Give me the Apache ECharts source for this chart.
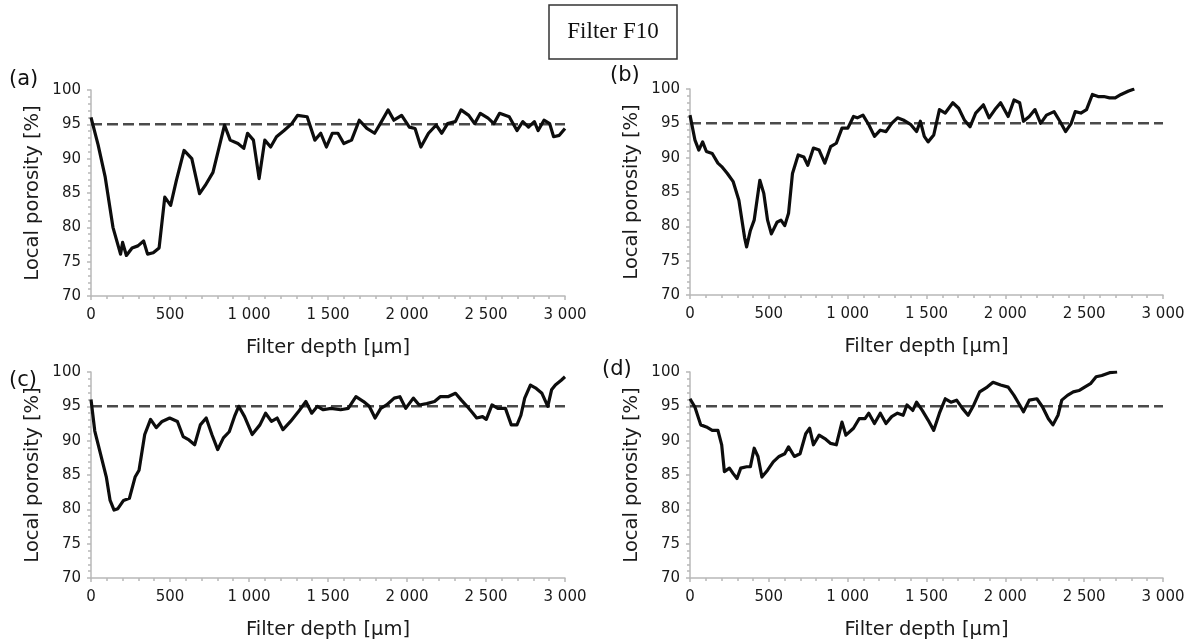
<!DOCTYPE html>
<html>
<head>
<meta charset="utf-8">
<script src="https://cdn.jsdelivr.net/npm/echarts@6/dist/echarts.min.js"></script>
<style>
html,body{margin:0;padding:0;background:#fff;}
#chart{width:1190px;height:642px;}
</style>
</head>
<body>
<div id="chart"></div>
<script>
// ---- data ----
const titleText = 'Filter F10';
const panelLabels = ['(a)', '(b)', '(c)', '(d)'];
const xAxisName = 'Filter depth [\u03bcm]';
const yAxisName = 'Local porosity [%]';
const xTicks = [0, 500, 1000, 1500, 2000, 2500, 3000];
const yTicks = [70, 75, 80, 85, 90, 95, 100];
const threshold = 95;

const depthA = [0,45,90,139,187,200,224,260,297,333,358,394,431,467,504,540,589,638,687,723,772,845,881,930,967,991,1028,1064,1100,1137,1174,1222,1271,1307,1368,1417,1454,1490,1527,1563,1600,1649,1698,1746,1795,1831,1880,1917,1966,2015,2051,2088,2136,2185,2220,2257,2306,2342,2391,2428,2464,2513,2550,2586,2647,2696,2733,2769,2806,2830,2867,2903,2928,2964,3000];
const porosityA = [96,92,87.3,80,76.1,77.8,75.9,77,77.3,78,76.1,76.3,77,84.4,83.2,86.8,91.2,90,84.9,86.1,88,94.9,92.7,92.2,91.5,93.7,92.7,87.1,92.7,91.7,93.2,94.1,95.1,96.3,96.1,92.7,93.7,91.7,93.7,93.7,92.2,92.7,95.6,94.4,93.7,95.1,97.1,95.6,96.3,94.6,94.4,91.7,93.7,94.9,93.7,95.1,95.4,97.1,96.3,95.1,96.6,95.9,95.1,96.6,96.1,94.1,95.4,94.6,95.4,94.1,95.6,95.1,93.2,93.4,94.4];

const depthB = [0,31,56,80,104,141,177,201,237,274,310,346,359,383,407,443,468,492,516,552,577,601,625,650,686,722,747,783,819,855,892,928,964,1001,1037,1061,1097,1134,1170,1207,1243,1279,1316,1352,1401,1437,1461,1486,1510,1546,1582,1619,1667,1704,1740,1776,1812,1861,1897,1934,1970,2018,2055,2091,2115,2152,2188,2224,2261,2309,2346,2382,2418,2443,2479,2515,2552,2588,2625,2661,2697,2734,2782,2818];
const porosityB = [96.2,92.6,91.1,92.3,90.9,90.6,89.2,88.7,87.7,86.5,83.8,78.4,77,79.4,80.9,86.7,84.8,80.9,78.9,80.6,80.9,80.1,81.9,87.7,90.4,90.1,88.9,91.4,91.1,89.2,91.6,92.1,94.3,94.3,96,95.8,96.2,94.8,93.1,94,93.8,95,95.8,95.5,94.8,93.8,95.3,93.1,92.3,93.3,97,96.5,98,97.2,95.5,94.5,96.5,97.7,95.8,97,98,96,98.4,98,95.3,96,97,95,96.2,96.7,95.3,93.8,95,96.7,96.5,97,99.2,98.9,98.9,98.7,98.7,99.2,99.7,100];

const depthC = [0,24,61,97,121,146,170,206,243,279,304,340,377,413,450,498,547,583,620,656,692,729,765,802,838,875,911,935,972,1020,1069,1105,1142,1178,1215,1263,1312,1360,1397,1433,1470,1519,1580,1628,1677,1725,1761,1798,1834,1871,1919,1955,1992,2040,2077,2125,2174,2210,2259,2307,2344,2380,2417,2441,2478,2502,2538,2575,2623,2660,2696,2721,2745,2781,2818,2854,2891,2915,2939,2976,3000];
const porosityC = [96,91.4,88,84.7,81.3,79.9,80.1,81.3,81.6,84.7,85.7,90.9,93.1,91.9,92.8,93.3,92.8,90.6,90.1,89.4,92.3,93.3,90.9,88.7,90.4,91.3,93.7,95,93.5,90.9,92.3,94,92.8,93.3,91.6,92.8,94.2,95.7,94,95,94.5,94.7,94.5,94.7,96.4,95.7,95,93.3,94.7,95.2,96.2,96.4,94.7,96.2,95.2,95.4,95.7,96.4,96.4,96.9,95.9,95,94,93.3,93.5,93.1,95.2,94.7,94.7,92.3,92.3,93.7,96.2,98.1,97.6,96.9,95,97.4,98.1,98.8,99.3];

const depthD = [0,31,68,104,141,177,201,218,250,274,298,322,359,383,407,431,456,492,528,565,601,625,662,698,734,759,783,819,855,892,928,964,989,1037,1073,1110,1134,1170,1207,1243,1279,1316,1352,1376,1413,1437,1473,1510,1546,1582,1619,1655,1691,1728,1764,1800,1837,1885,1922,1970,2018,2055,2091,2115,2152,2200,2236,2273,2302,2334,2358,2394,2431,2467,2503,2540,2576,2612,2661,2709];
const porosityD = [96.1,94.9,92.3,92,91.5,91.5,89.4,85.5,86,85.2,84.5,86,86.2,86.2,88.9,87.7,84.7,85.7,86.9,87.7,88.1,89.1,87.7,88.1,91,91.8,89.4,90.8,90.3,89.6,89.4,92.7,90.8,91.8,93.2,93.2,94,92.5,94,92.5,93.5,94,93.7,95.2,94.4,95.6,94.4,93,91.5,94,96.1,95.6,95.9,94.7,93.7,95.2,97.1,97.8,98.5,98.1,97.8,96.6,95.2,94.2,95.9,96.1,94.9,93.2,92.3,93.7,95.9,96.6,97.1,97.3,97.8,98.3,99.3,99.5,99.9,100];

const panelX = [depthA, depthB, depthC, depthD];
const panelY = [porosityA, porosityB, porosityC, porosityD];

// ---- layout ----
const grids = [
  {left: 91, top: 90, width: 474, height: 206},
  {left: 690, top: 89, width: 473, height: 206},
  {left: 91, top: 372, width: 474, height: 206},
  {left: 690, top: 372, width: 473, height: 206}
];
const labelPos = [[9, 69], [610, 65], [9, 370], [602, 359]];

const FONT = 'DejaVu Sans';
const fmtX = v => v >= 1000 ? Math.floor(v / 1000) + ' ' + String(v % 1000).padStart(3, '0') : String(v);
const axisGrey = '#b8b8b8';

const xAxes = [], yAxes = [], series = [], graphics = [];
grids.forEach((g, i) => {
  xAxes.push({
    type: 'value', gridIndex: i, min: xTicks[0], max: xTicks[xTicks.length - 1], interval: xTicks[1] - xTicks[0],
    name: xAxisName, nameLocation: 'middle', nameGap: 42,
    nameTextStyle: {fontFamily: FONT, fontSize: 19.5, color: '#1a1a1a'},
    axisLine: {show: true, lineStyle: {color: axisGrey, width: 1.5}},
    axisTick: {show: true, inside: false, length: 4, lineStyle: {color: axisGrey, width: 1.5}},
    minorTick: {show: true, splitNumber: 5, length: 3, lineStyle: {color: axisGrey, width: 1.5}},
    splitLine: {show: false},
    axisLabel: {formatter: fmtX, fontFamily: FONT, fontSize: 15, color: '#1a1a1a', margin: 12}
  });
  yAxes.push({
    type: 'value', gridIndex: i, min: yTicks[0], max: yTicks[yTicks.length - 1], interval: yTicks[1] - yTicks[0],
    name: yAxisName, nameLocation: 'middle', nameGap: 48,
    nameTextStyle: {fontFamily: FONT, fontSize: 19.5, color: '#1a1a1a'},
    axisLine: {show: true, lineStyle: {color: axisGrey, width: 1.5}},
    axisTick: {show: true, length: 4, lineStyle: {color: axisGrey, width: 1.5}},
    minorTick: {show: true, splitNumber: 5, length: 3, lineStyle: {color: axisGrey, width: 1.5}},
    splitLine: {show: false},
    axisLabel: {fontFamily: FONT, fontSize: 15, color: '#1a1a1a', margin: 10}
  });
  series.push({
    type: 'line', xAxisIndex: i, yAxisIndex: i, silent: true,
    data: [[xTicks[0], threshold], [xTicks[xTicks.length - 1], threshold]],
    showSymbol: false, lineStyle: {color: '#4a4a4a', width: 2.5, type: [11, 5]}, z: 2
  });
  series.push({
    type: 'line', xAxisIndex: i, yAxisIndex: i, silent: true,
    data: panelX[i].map((x, k) => [x, panelY[i][k]]),
    showSymbol: false, lineStyle: {color: '#0d0d0d', width: 3.2, join: 'round'}, z: 3
  });
  graphics.push({
    type: 'text', left: labelPos[i][0], top: labelPos[i][1],
    style: {text: panelLabels[i], font: '21px "DejaVu Sans"', fill: '#111'}
  });
});

graphics.push({
  type: 'rect', shape: {x: 549, y: 5, width: 128, height: 54},
  style: {fill: '#fff', stroke: '#333', lineWidth: 1.5}
});
graphics.push({
  type: 'text', x: 613, y: 32,
  style: {text: titleText, font: '23px "Liberation Serif"', fill: '#111', align: 'center', verticalAlign: 'middle'}
});

const chart = echarts.init(document.getElementById('chart'), null, {renderer: 'canvas'});
chart.setOption({
  backgroundColor: '#ffffff',
  animation: false,
  grid: grids.map(g => Object.assign({containLabel: false}, g)),
  xAxis: xAxes,
  yAxis: yAxes,
  series: series,
  graphic: graphics
});
</script>
</body>
</html>
